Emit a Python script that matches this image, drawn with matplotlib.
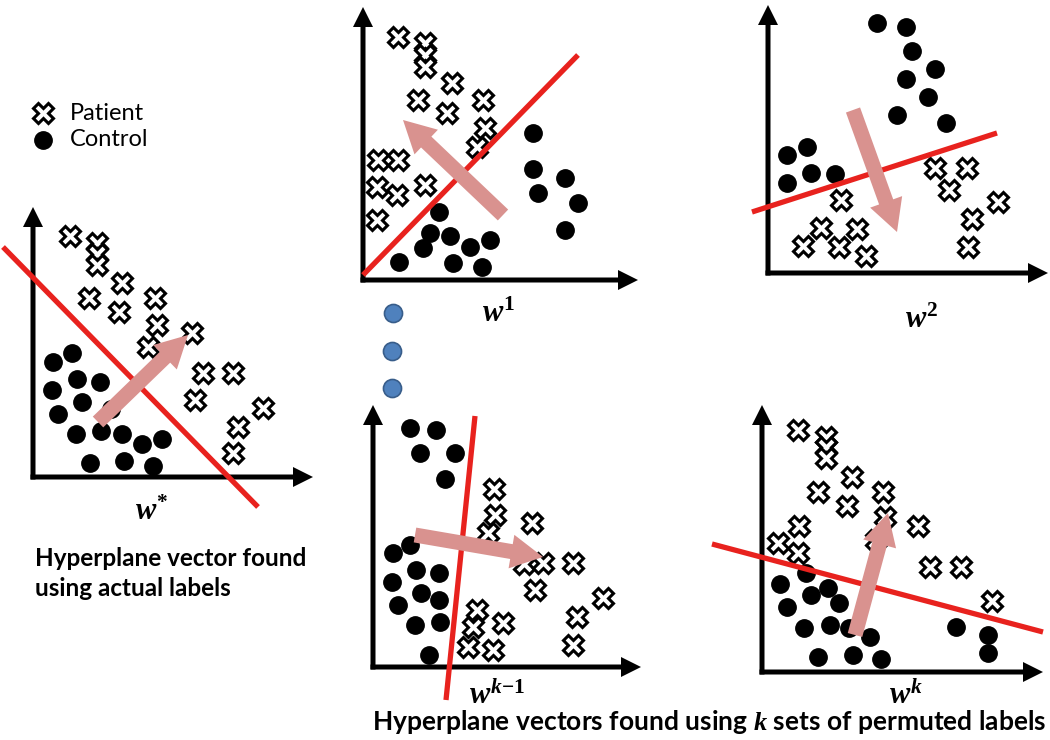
import matplotlib.pyplot as plt

plt.rcParams['font.family'] = ['Lato', 'DejaVu Sans']
plt.rcParams['mathtext.fontset'] = 'custom'
plt.rcParams['mathtext.it'] = 'Liberation Serif:italic:bold'
plt.rcParams['mathtext.rm'] = 'Liberation Serif:bold'
plt.rcParams['mathtext.bf'] = 'Liberation Serif:bold'

W, H = 1050, 740

# all points: pixel offsets from each panel's axis corner (x right, y up)
wstar_patient = [(37, 241), (64, 234), (64, 223), (64, 212), (89, 194), (56, 179), (122, 179),
                 (86, 165), (124, 152), (115, 130), (159, 144), (170, 104), (200, 104),
                 (162, 77), (230, 69), (205, 50), (200, 24)]
wstar_control = [(20, 115), (39, 124), (44, 98), (67, 95), (19, 87), (49, 75), (78, 68), (25, 63),
                 (43, 43), (68, 46), (89, 43), (109, 33), (129, 38), (57, 14), (91, 16), (120, 11)]
wstar_plane = [(-30, 230), (225, -30)]
wstar_vector = [(65, 55), (155, 142)]

w1_patient = [(35, 243), (62, 237), (62, 225), (62, 213), (89, 197), (55, 180), (84, 167),
              (120, 180), (122, 152), (114, 133), (15, 120), (35, 120), (14, 93), (34, 85),
              (62, 95), (14, 60)]
w1_control = [(170, 147), (170, 111), (202, 102), (175, 87), (215, 77), (202, 50), (76, 68),
              (67, 47), (87, 44), (60, 32), (127, 40), (107, 33), (36, 18), (90, 17), (119, 13)]
w1_plane = [(0, 5), (215, 225)]
w1_vector = [(140, 65), (40, 160)]

w2_patient = [(167, 105), (199, 105), (181, 83), (230, 71), (73, 73), (204, 54), (53, 45),
              (89, 44), (35, 27), (71, 26), (98, 17), (200, 26)]
w2_control = [(109, 250), (138, 246), (144, 222), (167, 204), (138, 194), (160, 176), (129, 158),
              (178, 150), (19, 118), (39, 126), (19, 90), (43, 100), (67, 99)]
w2_plane = [(-16, 61), (229, 140)]
w2_vector = [(85, 163), (129, 41)]

wk1_patient = [(121, 178), (122, 152), (115, 134), (159, 144), (151, 103), (170, 104), (200, 104),
               (162, 77), (230, 69), (104, 57), (100, 40), (130, 44), (204, 50), (95, 20),
               (120, 17), (200, 22)]
wk1_control = [(37, 239), (63, 237), (47, 214), (82, 214), (72, 188), (37, 122), (20, 114),
               (43, 97), (66, 94), (19, 85), (48, 74), (66, 67), (25, 62), (42, 42), (67, 45),
               (56, 12)]
wk1_plane = [(102, 251), (73, -33)]
wk1_vector = [(42, 132), (170, 110)]

wk_patient = [(36, 242), (64, 235), (64, 225), (64, 214), (90, 195), (56, 180), (85, 166),
              (121, 180), (123, 155), (156, 146), (114, 132), (37, 146), (16, 129), (36, 119),
              (168, 105), (199, 105), (230, 71)]
wk_control = [(44, 99), (18, 88), (66, 84), (49, 77), (77, 69), (25, 65), (42, 44), (68, 47),
              (87, 44), (108, 35), (56, 15), (91, 17), (119, 13), (194, 45), (226, 37), (226, 19)]
wk_plane = [(-50, 128), (281, 40)]
wk_vector = [(93, 37), (126, 159)]

panel_names = [r'$w^{*}$', r'$w^{1}$', r'$w^{2}$', r'$w^{k{-}1}$', r'$w^{k}$']

RED = '#e8221e'
PINK = '#d9928f'


def draw_panel(fig, origin, axis_len, patient, control, plane, vector, name, name_pos):
    ox, oy = origin
    ax = fig.add_axes([(ox - 60) / W, (H - oy - 50) / H, 360 / W, 340 / H])
    ax.set_xlim(-60, 300)
    ax.set_ylim(-50, 290)
    ax.axis('off')

    # axes arrows
    xlen, ylen = axis_len
    ax.arrow(-2.5, 0, xlen + 2.5, 0, width=5, head_width=20, head_length=20,
             length_includes_head=True, fc='k', ec='none', zorder=1)
    ax.arrow(0, -2.5, 0, ylen + 2.5, width=5, head_width=20, head_length=20,
             length_includes_head=True, fc='k', ec='none', zorder=1)

    px, py = zip(*patient)
    ax.plot(px, py, 'X', ms=14, mfc='white', mec='black', mew=2.2, zorder=2, clip_on=False)
    cx, cy = zip(*control)
    ax.plot(cx, cy, 'o', ms=12.5, color='black', zorder=2, clip_on=False)

    lx, ly = zip(*plane)
    ax.plot(lx, ly, color=RED, lw=3.8, solid_capstyle='butt', zorder=3, clip_on=False)

    (x0, y0), (x1, y1) = vector
    ax.arrow(x0, y0, x1 - x0, y1 - y0, width=15, head_width=34, head_length=32,
             length_includes_head=True, fc=PINK, ec='none', zorder=4)

    ax.text(name_pos[0], name_pos[1], name, fontsize=22, ha='center', va='center')
    return ax


fig = plt.figure(figsize=(W / 100, H / 100), dpi=100)
bg = fig.add_axes([0, 0, 1, 1])
bg.set_xlim(0, W)
bg.set_ylim(H, 0)
bg.axis('off')

draw_panel(fig, (33, 477), (280, 270), wstar_patient, wstar_control, wstar_plane, wstar_vector,
           panel_names[0], (119, -33))
draw_panel(fig, (363, 280), (275, 273), w1_patient, w1_control, w1_plane, w1_vector,
           panel_names[1], (136, -32))
draw_panel(fig, (768, 273), (280, 268), w2_patient, w2_control, w2_plane, w2_vector,
           panel_names[2], (154, -45))
draw_panel(fig, (373, 667), (268, 262), wk1_patient, wk1_control, wk1_plane, wk1_vector,
           panel_names[3], (124, -27))
draw_panel(fig, (762, 672), (281, 267), wk_patient, wk_control, wk_plane, wk_vector,
           panel_names[4], (144, -22))

# legend
bg.plot(43, 113, 'X', ms=14, mfc='white', mec='black', mew=2.2)
bg.plot(43, 140, 'o', ms=12.5, color='black')
bg.text(70, 113, 'Patient', fontsize=17, va='center', ha='left')
bg.text(70, 139, 'Control', fontsize=17, va='center', ha='left')

# ellipsis between the permuted panels
bg.plot([393, 392, 392], [313, 351, 388], 'o', ms=13, mfc='#4f81bd', mec='#385d8a', mew=1.2)

bg.text(35, 558, 'Hyperplane vector found', fontsize=17.5, fontweight='bold', va='center', ha='left')
bg.text(35, 588, 'using actual labels', fontsize=17.5, fontweight='bold', va='center', ha='left')
bg.text(709, 722, r'Hyperplane vectors found using $k$ sets of permuted labels', fontsize=19,
        fontweight='bold', va='center', ha='center')

fig.savefig('out.png', dpi=100)
